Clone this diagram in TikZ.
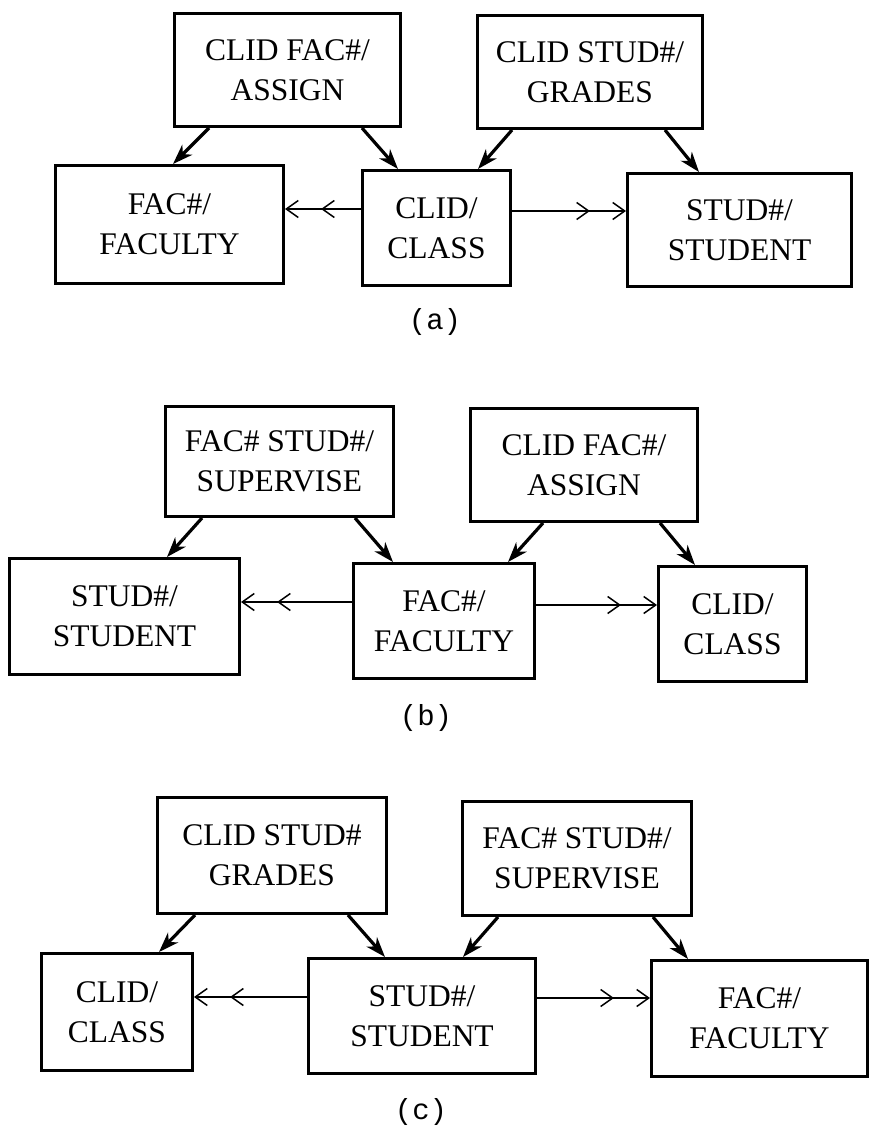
\documentclass[tikz,border=0pt]{standalone}
\usepackage{fontspec}
\setmainfont{Liberation Serif}
\newfontfamily\capfont{Liberation Mono}
\usetikzlibrary{arrows.meta,calc}
\begin{document}
\begin{tikzpicture}[x=1pt,y=-1pt,
  box/.style={draw, line width=3pt, rectangle, inner sep=0pt, align=center,
              font=\fontsize{31.5}{40}\selectfont},
  feed/.style={line width=3.2pt, -{Stealth[length=20pt,width=14pt,inset=6pt]}},
  link/.style={line width=1.5pt,
              -{Straight Barb[length=12pt,width=17pt,sep=22pt]Straight Barb[length=12pt,width=17pt]}},
  sublabel/.style={font=\capfont\fontsize{29}{29}\selectfont}]
\useasboundingbox (0,0) rectangle (873,1127);

% ---------- (a) ----------
\node[box, minimum width=226pt, minimum height=113pt] (asgA) at (287.5,70) {CLID FAC\#/\\ASSIGN};
\node[box, minimum width=225pt, minimum height=113pt] (grdA) at (590,72) {CLID STUD\#/\\GRADES};
\node[box, minimum width=228pt, minimum height=118pt] (facA) at (169.5,224.5) {FAC\#/\\FACULTY};
\node[box, minimum width=148pt, minimum height=115pt] (clsA) at (436.5,228) {CLID/\\CLASS};
\node[box, minimum width=224pt, minimum height=113pt] (stuA) at (739.5,230) {STUD\#/\\STUDENT};

\draw[feed] ([xshift=36pt]asgA.south west) -- ([xshift=119pt]facA.north west);
\draw[feed] ([xshift=-40pt]asgA.south east) -- ([xshift=37pt]clsA.north west);
\draw[feed] ([xshift=36pt]grdA.south west) -- ([xshift=-34pt]clsA.north east);
\draw[feed] ([xshift=-39pt]grdA.south east) -- ([xshift=73pt]stuA.north west);
\draw[link] ([yshift=19pt]clsA.west) -- ([yshift=19pt]clsA.west -| facA.east);
\draw[link] ([yshift=17pt]clsA.east) -- ([yshift=17pt]clsA.east -| stuA.west);

\node[sublabel] (capA) at (435,322) {(a)};

% ---------- (b) ----------
\node[box, minimum width=228pt, minimum height=110pt] (supB) at (279.5,461.5) {FAC\# STUD\#/\\SUPERVISE};
\node[box, minimum width=227pt, minimum height=113pt] (asgB) at (584,465) {CLID FAC\#/\\ASSIGN};
\node[box, minimum width=230pt, minimum height=116pt] (stuB) at (124.5,616.5) {STUD\#/\\STUDENT};
\node[box, minimum width=181pt, minimum height=115pt] (facB) at (444,621) {FAC\#/\\FACULTY};
\node[box, minimum width=148pt, minimum height=115pt] (clsB) at (732.5,624) {CLID/\\CLASS};

\draw[feed] ([xshift=38pt]supB.south west) -- ([xshift=159pt]stuB.north west);
\draw[feed] ([xshift=-40pt]supB.south east) -- ([xshift=41pt]facB.north west);
\draw[feed] ([xshift=74pt]asgB.south west) -- ([xshift=-28pt]facB.north east);
\draw[feed] ([xshift=-39pt]asgB.south east) -- ([xshift=38pt]clsB.north west);
\draw[link] ([yshift=19pt]facB.west) -- ([yshift=19pt]facB.west -| stuB.east);
\draw[link] ([yshift=16pt]facB.east) -- ([yshift=16pt]facB.east -| clsB.west);

\node[sublabel] (capB) at (426,718) {(b)};

% ---------- (c) ----------
\node[box, minimum width=229pt, minimum height=116pt] (grdC) at (272,855.5) {CLID STUD\#\\GRADES};
\node[box, minimum width=229pt, minimum height=114pt] (supC) at (577,858.5) {FAC\# STUD\#/\\SUPERVISE};
\node[box, minimum width=151pt, minimum height=117pt] (clsC) at (117,1012) {CLID/\\CLASS};
\node[box, minimum width=227pt, minimum height=115pt] (stuC) at (422,1016) {STUD\#/\\STUDENT};
\node[box, minimum width=216pt, minimum height=116pt] (facC) at (759.5,1018.5) {FAC\#/\\FACULTY};

\draw[feed] ([xshift=39pt]grdC.south west) -- ([xshift=119pt]clsC.north west);
\draw[feed] ([xshift=-40pt]grdC.south east) -- ([xshift=78pt]stuC.north west);
\draw[feed] ([xshift=37pt]supC.south west) -- ([xshift=-74pt]stuC.north east);
\draw[feed] ([xshift=-40pt]supC.south east) -- ([xshift=38pt]facC.north west);
\draw[link] ([yshift=19pt]stuC.west) -- ([yshift=19pt]stuC.west -| clsC.east);
\draw[link] ([yshift=18pt]stuC.east) -- ([yshift=18pt]stuC.east -| facC.west);

\node[sublabel] (capC) at (421,1112) {(c)};
\end{tikzpicture}
\end{document}
